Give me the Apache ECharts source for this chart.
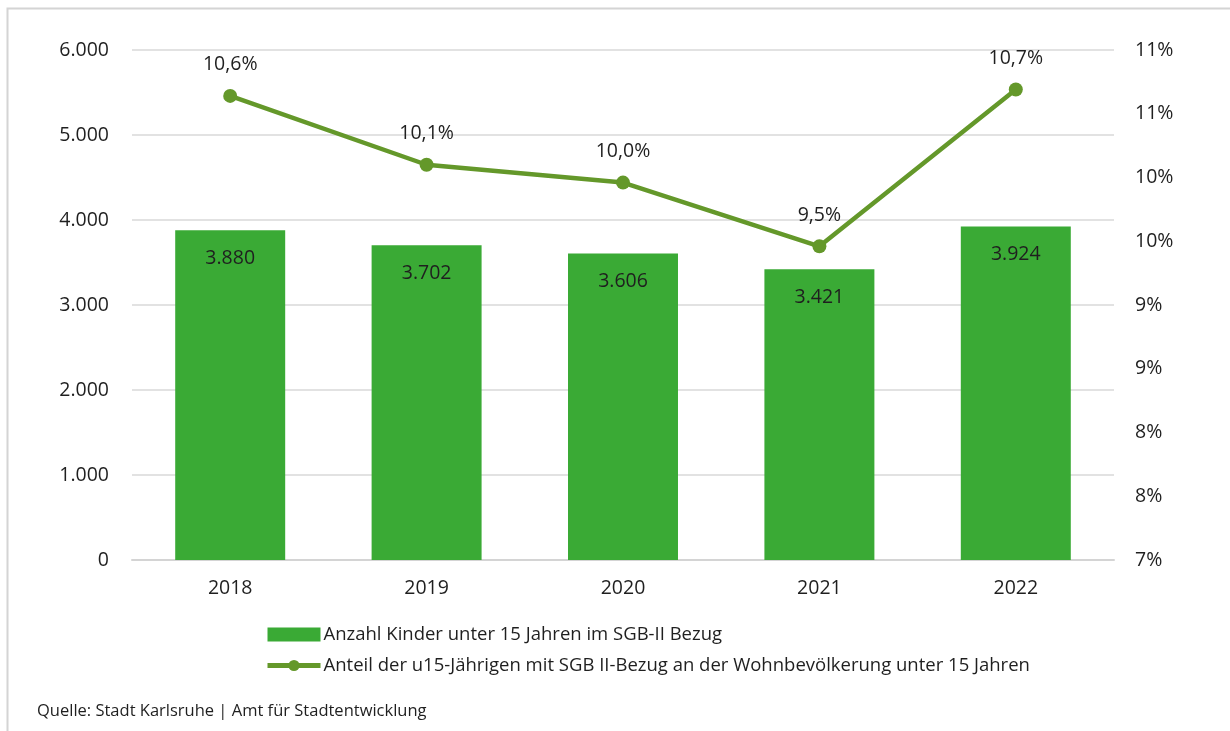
<!DOCTYPE html>
<html>
<head>
<meta charset="utf-8">
<script src="https://cdn.jsdelivr.net/npm/echarts@6/dist/echarts.min.js"></script>
<style>
	html, body { margin: 0; padding: 0; background: #fff; }
	#chart { width: 1230px; height: 731px; }
</style>
</head>
<body>
<div id="chart"></div>
<script>
// data
var years = ['2018', '2019', '2020', '2021', '2022']
var kinder = [3880, 3702, 3606, 3421, 3924]			// Anzahl Kinder
var anteil = [10.64, 10.10, 9.96, 9.46, 10.69]		// Anteil in %

var barName = 'Anzahl Kinder unter 15 Jahren im SGB-II Bezug'
var lineName = 'Anteil der u15-Jährigen mit SGB II-Bezug an der Wohnbevölkerung unter 15 Jahren'

var font = 'Open Sans'
var txt = '#1f1f1f'
var lineColor = '#64982a'

// 1.000er Trennzeichen
function de(v) {
	return String(v).replace(/\B(?=(\d{3})+(?!\d))/g, '.')
}

var chart = echarts.init(document.getElementById('chart'))

var option = {}
option.animation = false
option.textStyle = { fontFamily: font, color: txt }

option.grid = { left: 132, right: 116, top: 50, bottom: 171 }

option.graphic = [{
	type: 'rect',
	shape: { x: 7.5, y: 8.5, width: 1240, height: 740 },
	style: { fill: 'none', stroke: '#d4d4d4', lineWidth: 2 }
}, {
	type: 'text',
	left: 37,
	top: 703,
	style: { text: 'Quelle: Stadt Karlsruhe | Amt für Stadtentwicklung', font: '16.5px "Open Sans"', fill: txt }
}]

option.legend = {
	orient: 'vertical',
	left: 260,
	top: 620,
	itemWidth: 53,
	itemHeight: 14,
	itemGap: 12,
	textStyle: { fontSize: 18.5, color: txt, padding: [0, 0, 0, -2] },
	data: [
		{ name: barName, icon: 'rect' },
		{ name: lineName, lineStyle: { width: 5, color: lineColor }, itemStyle: { color: lineColor } }
	]
}

option.xAxis = {
	type: 'category',
	data: years,
	axisTick: { show: false },
	axisLine: { lineStyle: { color: '#d4d4d4', width: 2 } },
	axisLabel: { fontSize: 19.5, color: txt, margin: 18 }
}

option.yAxis = [{
	type: 'value',
	min: 0,
	max: 6000,
	interval: 1000,
	axisLine: { show: false },
	axisTick: { show: false },
	splitLine: { lineStyle: { color: '#d9d9d9', width: 1.5 } },
	axisLabel: { fontSize: 19.5, color: txt, margin: 23, formatter: de }
}, {
	type: 'value',
	min: 7,
	max: 11,
	interval: 0.5,
	axisLine: { show: false },
	axisTick: { show: false },
	splitLine: { show: false },
	axisLabel: {
		fontSize: 19.5, color: txt, margin: 21, align: 'left',
		formatter: function(v) { return Math.round(v + 1e-9) + '%' }
	}
}]

option.series = [{
	name: barName,
	type: 'bar',
	data: kinder,
	barWidth: '56%',
	itemStyle: { color: '#3aaa35' },
	label: {
		show: true,
		position: 'insideTop',
		distance: 18,
		fontSize: 19.5,
		color: txt,
		formatter: function(p) { return de(p.value) }
	}
}, {
	name: lineName,
	type: 'line',
	yAxisIndex: 1,
	data: anteil,
	symbol: 'circle',
	symbolSize: 14,
	lineStyle: { color: lineColor, width: 4.5 },
	itemStyle: { color: lineColor },
	label: {
		show: true,
		position: 'top',
		distance: 14,
		fontSize: 19.5,
		color: txt,
		formatter: function(p) { return p.value.toFixed(1).replace('.', ',') + '%' }
	}
}]

chart.setOption(option)
</script>
</body>
</html>
